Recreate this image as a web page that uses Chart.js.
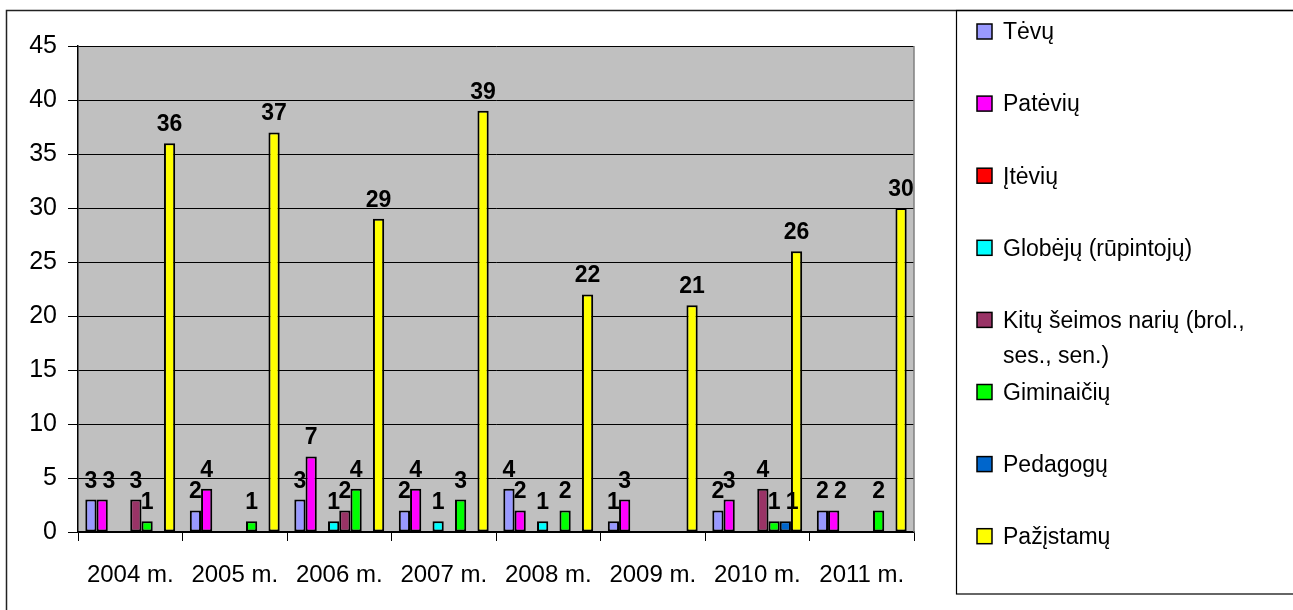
<!DOCTYPE html>
<html>
<head>
<meta charset="utf-8">
<script src="https://cdn.jsdelivr.net/npm/chart.js@4.4.0/dist/chart.umd.min.js"></script>
<style>
  html, body { margin: 0; padding: 0; background: #fff; }
</style>
</head>
<body>
<canvas id="myChart" width="1293" height="610"></canvas>
<script>
'use strict';

var years = ['2004 m.', '2005 m.', '2006 m.', '2007 m.', '2008 m.', '2009 m.', '2010 m.', '2011 m.'];

var tevu       = [3, 2, 3, 2, 4, 1, 2, 2];
var patevių    = [3, 4, 7, 4, 2, 3, 3, 2];
var itevių     = [0, 0, 0, 0, 0, 0, 0, 0];
var globeju    = [0, 0, 1, 1, 1, 0, 0, 0];
var kituSeimos = [3, 0, 2, 0, 0, 0, 4, 0];
var giminaiciu = [1, 1, 4, 3, 2, 0, 1, 2];
var pedagogu   = [0, 0, 0, 0, 0, 0, 1, 0];
var pazistamu  = [36, 37, 29, 39, 22, 21, 26, 30];

var seriesNames = ['Tėvų', 'Patėvių', 'Įtėvių', 'Globėjų (rūpintojų)',
  'Kitų šeimos narių (brol., ses., sen.)', 'Giminaičių', 'Pedagogų', 'Pažįstamų'];
var seriesData = [tevu, patevių, itevių, globeju, kituSeimos, giminaiciu, pedagogu, pazistamu];
var seriesColors = ['#9999FF', '#FF00FF', '#FF0000', '#00FFFF', '#993366', '#00FF00', '#0066CC', '#FFFF00'];

var yTicks = [0, 5, 10, 15, 20, 25, 30, 35, 40, 45];

var FONT = '"Liberation Sans", Arial, sans-serif';

// Build datasets
var datasets = [];
for (var i = 0; i < seriesNames.length; i++) {
  datasets.push({
    label: seriesNames[i],
    data: seriesData[i],
    backgroundColor: seriesColors[i],
    borderColor: '#000',
    borderWidth: 2,
    borderSkipped: false,
    categoryPercentage: 0.86,
    barPercentage: 1
  });
}

// gray plot background + frames
var backdrop = {
  id: 'backdrop',
  beforeDraw: function (chart) {
    var ctx = chart.ctx, a = chart.chartArea;
    ctx.save();
    ctx.fillStyle = '#fff';
    ctx.fillRect(0, 0, chart.width, chart.height);
    ctx.fillStyle = '#C0C0C0';
    ctx.fillRect(a.left, a.top, a.right - a.left, a.bottom - a.top);
    ctx.restore();
  },
  afterDraw: function (chart) {
    var ctx = chart.ctx, a = chart.chartArea;
    ctx.save();
    // plot area border (right side)
    ctx.strokeStyle = '#808080';
    ctx.lineWidth = 1.5;
    ctx.beginPath();
    ctx.moveTo(a.right, a.top);
    ctx.lineTo(a.right, a.bottom);
    ctx.stroke();
    // chart frame
    ctx.strokeStyle = '#222';
    ctx.lineWidth = 1.5;
    ctx.strokeRect(6.5, 10.5, 2000, 2000);
    // legend box
    ctx.strokeStyle = '#000';
    ctx.lineWidth = 1.2;
    ctx.strokeRect(956.5, 10.5, 500, 583.5);
    ctx.restore();
  }
};

// legend drawn by hand (wrapped names)
var sideLegend = {
  id: 'sideLegend',
  afterDraw: function (chart) {
    var ctx = chart.ctx;
    var ds = chart.data.datasets;
    ctx.save();
    ctx.font = '23px ' + FONT;
    ctx.textBaseline = 'middle';
    ctx.textAlign = 'left';
    var boxX = 977, textX = 1003, maxW = 1290 - textX;
    for (var k = 0; k < ds.length; k++) {
      var y = 33 + k * 72.1;
      ctx.fillStyle = ds[k].backgroundColor;
      ctx.fillRect(boxX, y - 9, 15, 15);
      ctx.strokeStyle = '#000';
      ctx.lineWidth = 1.5;
      ctx.strokeRect(boxX, y - 9, 15, 15);
      // wrap
      var words = ds[k].label.split(' ');
      var lines = [], line = '';
      words.forEach(function (w) {
        var t = line ? line + ' ' + w : w;
        if (ctx.measureText(t).width > maxW && line) {
          lines.push(line);
          line = w;
        } else {
          line = t;
        }
      });
      lines.push(line);
      ctx.fillStyle = '#000';
      for (var l = 0; l < lines.length; l++) {
        ctx.fillText(lines[l], textX, y + l * 35);
      }
    }
    ctx.restore();
  }
};

// value labels above non-zero bars
var valueLabels = {
  id: 'valueLabels',
  afterDatasetsDraw: function (chart) {
    var ctx = chart.ctx;
    ctx.save();
    ctx.font = 'bold 23px ' + FONT;
    ctx.fillStyle = '#000';
    ctx.textAlign = 'center';
    ctx.textBaseline = 'alphabetic';
    chart.data.labels.forEach(function (lab, j) {
      var prevX = -1e9, prevV = null;
      chart.data.datasets.forEach(function (d, di) {
        var v = d.data[j];
        if (!v) return;
        var bar = chart.getDatasetMeta(di).data[j];
        var x = bar.x;
        // same-height neighbours would overlap: nudge apart
        if (v === prevV && x - prevX < 18) x = prevX + 18;
        ctx.fillText(String(v), x, bar.y - 12);
        prevX = x;
        prevV = v;
      });
    });
    ctx.restore();
  }
};

var canavas = document.getElementById('myChart').getContext('2d');

var chart = new Chart(canavas, {
  type: 'bar',
  data: {
    labels: years,
    datasets: datasets
  },
  options: {
    responsive: false,
    animation: false,
    devicePixelRatio: 1,
    layout: { padding: { top: 46, right: 379, left: 0, bottom: 0 } },
    plugins: {
      legend: { display: false },
      tooltip: { enabled: false }
    },
    scales: {
      x: {
        grid: {
          offset: true,
          drawOnChartArea: false,
          drawTicks: true,
          tickLength: 9,
          color: '#000'
        },
        border: { display: true, color: '#000', width: 1.5 },
        ticks: {
          color: '#000',
          font: { size: 24, family: FONT },
          padding: 20,
          maxRotation: 0,
          autoSkip: false
        },
        afterFit: function (s) { s.height = 78; }
      },
      y: {
        min: 0,
        max: 45,
        afterBuildTicks: function (s) {
          s.ticks = yTicks.map(function (v) { return { value: v }; });
        },
        grid: {
          color: '#000',
          lineWidth: 1,
          tickLength: 10
        },
        border: { display: true, color: '#000', width: 1.5 },
        ticks: {
          color: '#000',
          font: { size: 25, family: FONT },
          padding: 11
        },
        afterFit: function (s) { s.width = 78; }
      }
    }
  },
  plugins: [backdrop, sideLegend, valueLabels]
});
</script>
</body>
</html>
